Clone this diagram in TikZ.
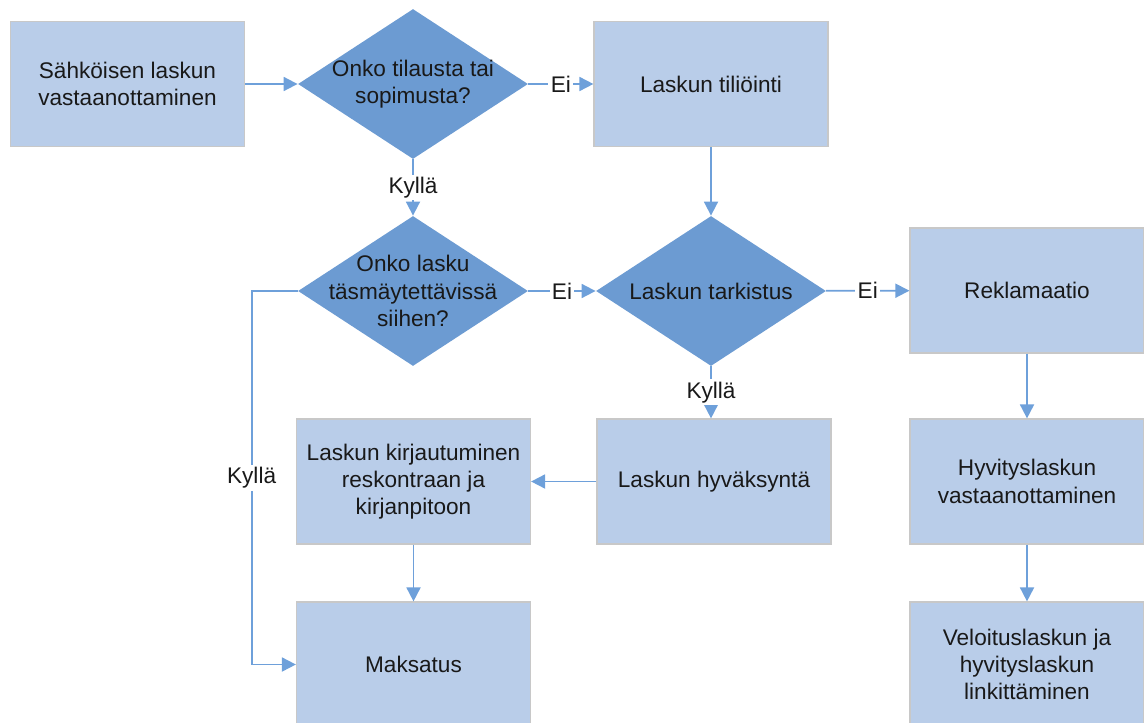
\documentclass[tikz,border=0pt]{standalone}
\usepackage{fontspec}
\setmainfont{Liberation Sans}
\usetikzlibrary{arrows.meta,positioning,shapes.geometric}
\definecolor{laatikko}{RGB}{185,205,233}
\definecolor{paatos}{RGB}{108,155,210}
\definecolor{nuoli}{RGB}{110,160,218}
\definecolor{reuna}{RGB}{200,200,200}
\definecolor{teksti}{RGB}{25,25,25}

\begin{document}
\begin{tikzpicture}[x=0.5pt,y=-0.5pt,
    font=\fontsize{11.3}{13.6}\selectfont,
    box/.style={draw=reuna,line width=0.6pt,fill=laatikko,text=teksti,
      minimum width=117pt,minimum height=62.5pt,align=center,inner sep=0pt},
    decision/.style={diamond,fill=paatos,minimum width=115pt,
      minimum height=75pt,inner sep=0pt},
    arr/.style={draw=nuoli,line width=0.9pt,-{Triangle[length=7pt,width=7pt]}},
    lbl/.style={fill=white,text=teksti,inner sep=1.2pt}]
    \useasboundingbox (0,0) rectangle (1144,722);
    % Laatikot ja paatokset
    \node[box] (vast) at (127.5,84) {Sähköisen laskun\\vastaanottaminen};
    \node[decision,label={[align=center,text=teksti]center:Onko tilausta tai\\sopimusta?}]
      (tilaus) at (413,84) {};
    \node[box] (tilioi) at (711,84) {Laskun tiliöinti};
    \node[decision,label={[align=center,text=teksti]center:Onko lasku\\täsmäytettävissä\\siihen?}]
      (tasma) at (413,291) {};
    \node[decision,label={[text=teksti]center:Laskun tarkistus}]
      (tark) at (711,291) {};
    \node[box] (rekl) at (1027,290.5) {Reklamaatio};
    \node[box] (kirj) at (413.5,481.5) {Laskun kirjautuminen\\reskontraan ja\\kirjanpitoon};
    \node[box] (hyv) at (714,481.5) {Laskun hyväksyntä};
    \node[box] (hyvit) at (1027,481.5) {Hyvityslaskun\\vastaanottaminen};
    \node[box] (maks) at (413.5,664.5) {Maksatus};
    \node[box] (velo) at (1027,664.5) {Veloituslaskun ja\\hyvityslaskun\\linkittäminen};
    % Nuolet
    \draw[arr] (vast) -- (tilaus);
    \draw[arr] (tilaus) -- node[lbl]{Ei} (tilioi);
    \draw[arr] (tilaus) -- node[lbl]{Kyllä} (tasma);
    \draw[arr] (tilioi) -- (tark);
    \draw[arr] (tasma) -- node[lbl]{Ei} (tark);
    \draw[arr] (tark) -- node[lbl]{Ei} (rekl);
    \draw[arr] (tark.south) -- node[lbl]{Kyllä} (tark.south |- hyv.north);
    \draw[arr] (hyv) -- (kirj);
    \draw[arr] (kirj) -- (maks);
    \draw[arr] (rekl) -- (hyvit);
    \draw[arr] (hyvit) -- (velo);
    \draw[arr] (tasma.west) -- ++(-46,0) |- node[lbl,pos=0.25]{Kyllä} (maks.west);
  \end{tikzpicture}
\end{document}
